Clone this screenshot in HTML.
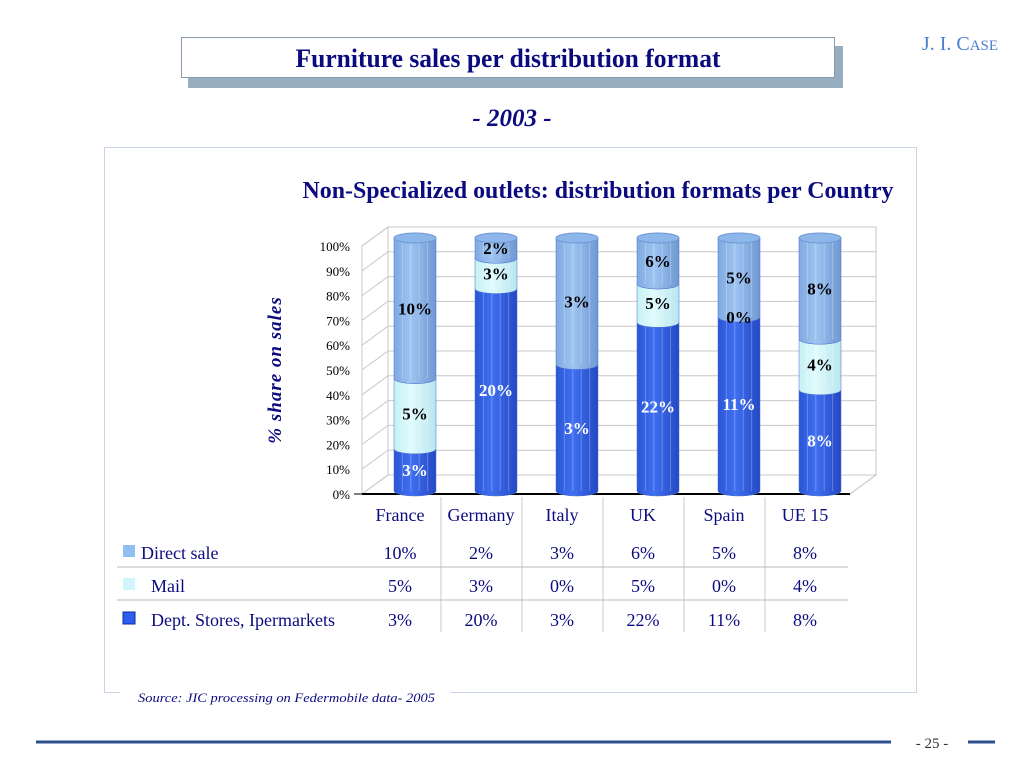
<!DOCTYPE html>
<html><head><meta charset="utf-8">
<style>
body{margin:0;width:1024px;height:768px;background:#fff;overflow:hidden;font-family:"Liberation Serif",serif;}
svg{position:absolute;left:0;top:0}
</style></head>
<body>
<svg width="1024" height="768" id="chart">
<defs>
<linearGradient id="gDept" x1="0" x2="1"><stop offset="0" stop-color="#2a56d6"/><stop offset="0.4" stop-color="#3f6ff0"/><stop offset="1" stop-color="#2448c4"/></linearGradient>
<linearGradient id="gMail" x1="0" x2="1"><stop offset="0" stop-color="#c6f0f4"/><stop offset="0.4" stop-color="#e0fbfd"/><stop offset="1" stop-color="#b8e6ee"/></linearGradient>
<linearGradient id="gDirect" x1="0" x2="1"><stop offset="0" stop-color="#7fa9e0"/><stop offset="0.4" stop-color="#9ec4f2"/><stop offset="1" stop-color="#6f98d2"/></linearGradient>
</defs>
<rect x="188" y="46" width="655" height="42" fill="#97aec0"/>
<rect x="181.5" y="37.5" width="653" height="40" fill="#fff" stroke="#8a9ab0"/>
<text x="508" y="67" text-anchor="middle" font-size="26" font-weight="bold" fill="#0b0b80" textLength="425" lengthAdjust="spacingAndGlyphs">Furniture sales per distribution format</text>
<text x="960" y="50" text-anchor="middle" font-size="20" fill="#4a7fd0">J. I. C<tspan font-size="15">ASE</tspan></text>
<text x="512" y="126" text-anchor="middle" font-size="25" font-weight="bold" font-style="italic" fill="#0b0b80">- 2003 -</text>
<rect x="104.5" y="147.5" width="812" height="545" fill="#fff" stroke="#c8d4e4"/>
<text x="598" y="198" text-anchor="middle" font-size="24" font-weight="bold" fill="#0b0b80" textLength="591" lengthAdjust="spacingAndGlyphs">Non-Specialized outlets: distribution formats per Country</text>
<text transform="translate(281,370) rotate(-90)" text-anchor="middle" font-size="19" font-weight="bold" font-style="italic" fill="#0b0b80" letter-spacing="1">% share on sales</text>
<g id="axes"></g>
<g id="bars"></g>
<g id="table"></g>
<rect x="120" y="688" width="330" height="12" fill="#fff"/>
<text x="138" y="702" font-size="13" font-style="italic" fill="#0b0b80" textLength="297" lengthAdjust="spacingAndGlyphs">Source: JIC processing on  Federmobile data- 2005</text>
<line x1="36" y1="742" x2="891" y2="742" stroke="#2c4f8f" stroke-width="3"/>
<text x="932" y="748" text-anchor="middle" font-size="15" fill="#333">- 25 -</text>
<line x1="968" y1="742" x2="995" y2="742" stroke="#2c4f8f" stroke-width="3"/>
</svg>
<script>
const categories=["France","Germany","Italy","UK","Spain","UE 15"];
const direct=[10,2,3,6,5,8];
const mail=[5,3,0,5,0,4];
const dept=[3,20,3,22,11,8];
const showZeroMail=[false,false,false,false,true,false];
const ticks=[0,10,20,30,40,50,60,70,80,90,100];

const NS="http://www.w3.org/2000/svg";
function mk(tag,attrs,parent){const e=document.createElementNS(NS,tag);for(const k in attrs)e.setAttribute(k,attrs[k]);parent.appendChild(e);return e;}
const axes=document.getElementById('axes'),bars=document.getElementById('bars'),table=document.getElementById('table');
const x0=362,x1=850,dx=26,dy=-19,y0=494,yTop=246;
const yFront=p=>y0-(yTop-y0)*-p/100;
const yCyl=p=>491-p*2.53;
const colX=i=>415+i*81;
let wall=mk('polygon',{points:`${x0+dx},${y0+dy} ${x1+dx},${y0+dy} ${x1+dx},${yTop+dy} ${x0+dx},${yTop+dy}`,fill:'#fff',stroke:'#c8c8c8'},axes);


mk('polygon',{points:`${x0},${y0} ${x0+dx},${y0+dy} ${x0+dx},${yTop+dy} ${x0},${yTop}`,fill:'#fff',stroke:'#c8c8c8'},axes);
mk('polygon',{points:`${x0},${y0} ${x1},${y0} ${x1+dx},${y0+dy} ${x0+dx},${y0+dy}`,fill:'#fff',stroke:'#c8c8c8'},axes);
ticks.forEach(t=>{
  const y=yFront(t);
  const g=mk('polyline',{points:`${x0},${y} ${x0+dx},${y+dy} ${x1+dx},${y+dy}`,fill:'none',stroke:'#c8c8c8'},axes);
  
  
  const l=mk('text',{x:350,y:y+5,'text-anchor':'end','font-size':13,fill:'#000'},axes);
  l.textContent=t+'%';
  
  
});
mk('line',{x1:x0-8,y1:y0,x2:x0,y2:y0,stroke:'#000'},axes);
const ax=mk('line',{x1:x0,y1:y0,x2:x1,y2:y0,stroke:'#000','stroke-width':2},axes);


mk('line',{x1:x1,y1:y0,x2:x1+dx,y2:y0+dy,stroke:'#c8c8c8'},axes);
const w=42,ry=5;
function seg(cx,pa,pb,fill,name,label,col){
  const ya=yCyl(pa),yb=yCyl(pb),l=cx-w/2,r=cx+w/2;
  const p=mk('path',{d:`M${l},${yb} L${l},${ya} A${w/2},${ry} 0 0 0 ${r},${ya} L${r},${yb} A${w/2},${ry} 0 0 1 ${l},${yb} Z`,fill:fill,stroke:'#4a6fd0','stroke-width':0.5},bars);
  
  
  for(let k=1;k<5;k++){mk('line',{x1:l+w*k/5,y1:yb,x2:l+w*k/5,y2:ya,stroke:'rgba(255,255,255,0.25)','stroke-width':1},bars);}
  const t=mk('text',{x:cx,y:(ya+yb)/2+6,'text-anchor':'middle','font-size':17,'font-weight':'bold',fill:col},bars);
  t.textContent=label;
  
  
}
categories.forEach((c,i)=>{
  const tot=direct[i]+mail[i]+dept[i];
  const pd=dept[i]/tot*100,pm=(dept[i]+mail[i])/tot*100;
  const cx=colX(i);
  seg(cx,0,pd,'url(#gDept)','bar-dept-'+i,dept[i]+'%','#fff');
  if(mail[i]>0)seg(cx,pd,pm,'url(#gMail)','bar-mail-'+i,mail[i]+'%','#000');
  seg(cx,pm,100,'url(#gDirect)','bar-direct-'+i,direct[i]+'%','#000');
  if(mail[i]===0&&showZeroMail[i]){const t=mk('text',{x:cx,y:yCyl(pm)+6,'text-anchor':'middle','font-size':17,'font-weight':'bold',fill:'#000'},bars);t.textContent='0%';}
  const top=mk('ellipse',{cx:cx,cy:yCyl(100),rx:w/2,ry:ry,fill:'#8db6ea',stroke:'#6f98d2'},bars);
  
  
  const cl=mk('text',{x:cx-15,y:521,'text-anchor':'middle','font-size':18,fill:'#0b0b80'},table);
  cl.textContent=c;
  
  
  [[direct,559],[mail,592],[dept,626]].forEach(([arr,y])=>{
    const v=mk('text',{x:cx-15,y:y,'text-anchor':'middle','font-size':18,fill:'#0b0b80'},table);
    v.textContent=arr[i]+'%';
    
    
  });
  if(i>0)mk('line',{x1:cx-55,y1:497,x2:cx-55,y2:632,stroke:'#c8c8c8'},table);
});
mk('line',{x1:117,y1:567,x2:848,y2:567,stroke:'#b8b8b8'},table);
mk('line',{x1:117,y1:600,x2:848,y2:600,stroke:'#b8b8b8'},table);
[['#8fbef0','Direct sale',141,559],['#d0f6fb','Mail',151,592],['#2b5ef0','Dept. Stores, Ipermarkets',151,626]].forEach(([c,n,tx,y],k)=>{
  const r=mk('rect',{x:123,y:y-14,width:12,height:12,fill:c,stroke:k==2?'#0b2ba0':'none'},table);
  
  
  const t=mk('text',{x:tx,y:y,'font-size':18,fill:'#0b0b80'},table);
  t.textContent=n;
  
  
});
</script>
</body></html>
